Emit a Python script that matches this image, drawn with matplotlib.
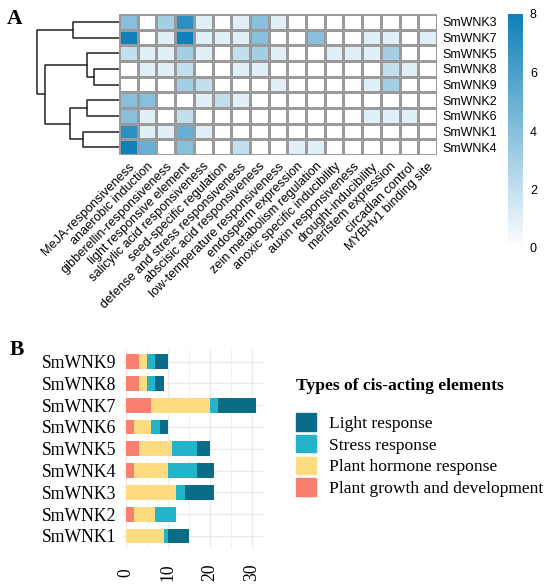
import numpy as np
import matplotlib.pyplot as plt
from matplotlib.colors import LinearSegmentedColormap
from matplotlib.patches import Patch

W, H = 550, 584
SANS = "Liberation Sans"
SERIF = "Liberation Serif"

# ---- panel A: element counts per gene (rows in clustered order) ----
elements = [
    "MeJA-responsiveness", "anaerobic induction", "gibberellin-responsiveness",
    "light responsive element", "salicylic acid responsiveness",
    "seed-specific regulation", "defense and stress responsiveness",
    "abscisic acid responsiveness", "low-temperature responsiveness",
    "endosperm expression", "zein metabolism regulation",
    "anoxic specific inducibility", "auxin responsiveness", "drought-inducibility",
    "meristem expression", "circadian control", "MYBHv1 binding site",
]
heat_genes = ["SmWNK3", "SmWNK7", "SmWNK5", "SmWNK8", "SmWNK9",
              "SmWNK2", "SmWNK6", "SmWNK1", "SmWNK4"]
counts = np.array([
    [4, 0, 3, 7, 1, 0, 1, 4, 1, 0, 0, 0, 0, 0, 0, 0, 0],
    [8, 0, 1, 8, 1, 1, 1, 4, 0, 0, 4, 0, 0, 1, 1, 0, 1],
    [2, 1, 1, 3, 1, 0, 2, 3, 1, 0, 0, 1, 1, 1, 3, 0, 0],
    [0, 1, 1, 2, 0, 0, 1, 1, 0, 0, 0, 0, 0, 0, 2, 1, 0],
    [0, 0, 0, 3, 2, 0, 0, 0, 1, 0, 0, 0, 0, 1, 3, 0, 0],
    [4, 4, 0, 0, 1, 2, 1, 0, 0, 0, 0, 0, 0, 0, 0, 0, 0],
    [4, 1, 0, 2, 0, 0, 0, 0, 0, 0, 0, 0, 0, 1, 1, 1, 0],
    [7, 1, 1, 5, 1, 0, 0, 0, 0, 0, 0, 0, 0, 0, 0, 0, 0],
    [8, 5, 0, 4, 0, 0, 2, 0, 0, 1, 1, 0, 0, 0, 0, 0, 0],
])
# row clustering: (left, right, height); an int refers to an earlier merge
merges = [
    ("SmWNK3", "SmWNK7", 4.53),
    ("SmWNK8", "SmWNK9", 2.47),
    ("SmWNK5", 1, 3.20),
    ("SmWNK2", "SmWNK6", 3.20),
    ("SmWNK1", "SmWNK4", 3.53),
    (3, 4, 4.90),
    (2, 5, 7.37),
    (0, 6, 8.13),
]
cbar_ticks = [0, 2, 4, 6, 8]

# ---- panel B: stacked totals per category ----
bar_genes = ["SmWNK1", "SmWNK2", "SmWNK3", "SmWNK4", "SmWNK5",
             "SmWNK6", "SmWNK7", "SmWNK8", "SmWNK9"]
growth = [0, 2, 0, 2, 3, 2, 6, 3, 3]
hormone = [9, 5, 12, 8, 8, 4, 14, 2, 2]
stress = [1, 5, 2, 7, 6, 2, 2, 2, 2]
light = [5, 0, 7, 4, 3, 2, 9, 2, 3]
bar_ticks = [0, 10, 20, 30]
groups = ["Plant growth and development", "Plant hormone response",
          "Stress response", "Light response"]
group_colors = ["#F9806E", "#FDDB80", "#24B4CA", "#0B6C87"]

fig = plt.figure(figsize=(W / 100, H / 100), dpi=100)


def px_axes(x0, y0, x1, y1):
    return fig.add_axes([x0 / W, 1 - y1 / H, (x1 - x0) / W, (y1 - y0) / H])


# heatmap
cmap = LinearSegmentedColormap.from_list("wb", ["#FFFFFF", "#0F80B9"])
ax_h = px_axes(119, 14, 437, 155)
mesh = ax_h.pcolormesh(counts, cmap=cmap, vmin=0, vmax=8,
                       edgecolors="#9A9A9A", linewidth=0.8)
ax_h.set_xlim(0, len(elements))
ax_h.set_ylim(len(heat_genes), 0)
for s in ax_h.spines.values():
    s.set_visible(False)
ax_h.set_xticks(np.arange(len(elements)) + 0.5)
ax_h.set_xticklabels(elements, rotation=45, ha="right", va="top",
                     rotation_mode="anchor", family=SANS, fontsize=9.2)
ax_h.yaxis.tick_right()
ax_h.set_yticks(np.arange(len(heat_genes)) + 0.5)
ax_h.set_yticklabels(heat_genes, family=SANS, fontsize=9)
ax_h.tick_params(length=0, pad=4)

# dendrogram
ax_d = px_axes(35, 14, 119, 155)
pos = {g: (0.0, i + 0.5) for i, g in enumerate(heat_genes)}
nodes = []
for left, right, h in merges:
    (hl, yl), (hr, yr) = [nodes[c] if isinstance(c, int) else pos[c]
                          for c in (left, right)]
    ax_d.plot([hl, h, h, hr], [yl, yl, yr, yr], color="#222222", lw=1.1)
    nodes.append((h, (yl + yr) / 2))
ax_d.set_ylim(len(heat_genes), 0)
ax_d.set_xlim(merges[-1][2] * 84 / 82, 0)
ax_d.axis("off")

# colorbar
cax = px_axes(508, 14, 523, 248)
cb = fig.colorbar(mesh, cax=cax, ticks=cbar_ticks)
cb.outline.set_visible(False)
cax.tick_params(length=0, pad=5, labelsize=9)
for t in cax.get_yticklabels():
    t.set_family(SANS)

# stacked bars
ax_b = px_axes(123, 348.5, 263, 549)
y = np.arange(1, len(bar_genes) + 1)
left = np.zeros(len(bar_genes))
for vals, name, col in zip([growth, hormone, stress, light], groups, group_colors):
    ax_b.barh(y, vals, left=left, height=0.68, color=col, label=name, zorder=2)
    left += np.array(vals)
ax_b.set_xlim(-0.7, 32.6)
ax_b.set_ylim(0.4, len(bar_genes) + 0.6)
ax_b.set_yticks(y)
ax_b.set_yticklabels(bar_genes, family=SERIF, fontsize=12.7)
ax_b.set_xticks(bar_ticks)
ax_b.set_xticks([5, 15, 25], minor=True)
ax_b.set_xticklabels([str(t) for t in bar_ticks], rotation=90, ha="center",
                     va="center", rotation_mode="anchor", family=SERIF, fontsize=12.7)
ax_b.tick_params(axis="x", which="both", length=0, pad=17)
ax_b.tick_params(axis="y", length=0, pad=5)
ax_b.grid(True, which="major", color="#EBEBEB", lw=1.0, zorder=0)
ax_b.grid(True, which="minor", axis="x", color="#EBEBEB", lw=0.5, zorder=0)
ax_b.set_axisbelow(True)
for s in ax_b.spines.values():
    s.set_visible(False)

handles = [Patch(color=c) for c in group_colors][::-1]
leg = fig.legend(handles, groups[::-1], loc="upper left",
                 bbox_to_anchor=(296 / W, 1 - 378 / H), frameon=False,
                 title="Types of cis-acting elements",
                 title_fontproperties={"family": SERIF, "weight": "bold", "size": 12.6},
                 prop={"family": SERIF, "size": 12.6}, handlelength=1.15,
                 handleheight=1.15, labelspacing=0.17, handletextpad=0.75,
                 alignment="left", borderpad=0, borderaxespad=0)
leg._legend_box.sep = 14

fig.text(7 / W, 1 - 9 / H, "A", family=SERIF, weight="bold", fontsize=15.5, va="top")
fig.text(10 / W, 1 - 340 / H, "B", family=SERIF, weight="bold", fontsize=15.5, va="top")

fig.savefig("out.png", dpi=100)
